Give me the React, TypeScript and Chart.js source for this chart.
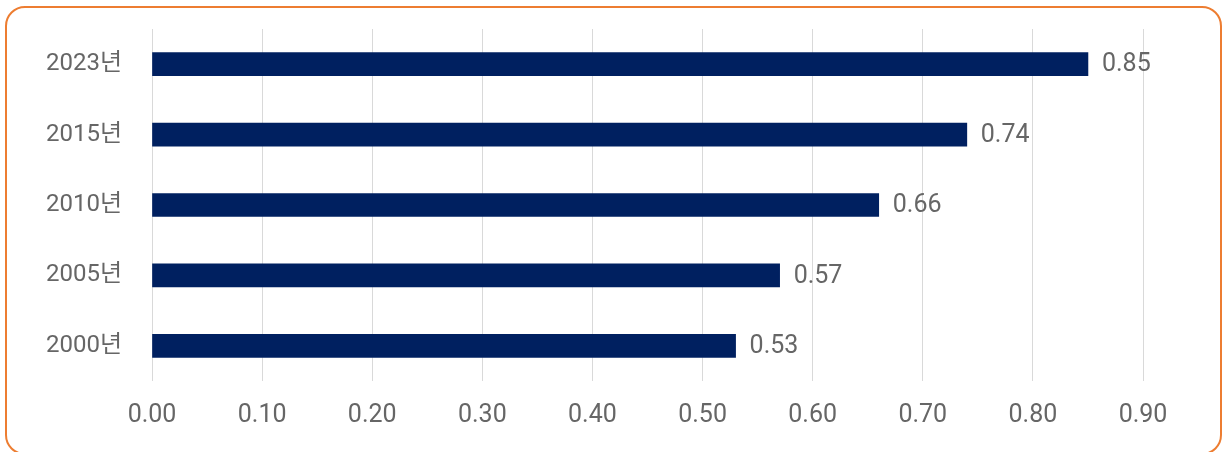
import React, { useEffect, useRef } from "react";
import { Chart, registerables } from "chart.js";

Chart.register(...registerables);

const categories: string[] = ["2023년", "2015년", "2010년", "2005년", "2000년"];
const values: number[] = [0.85, 0.74, 0.66, 0.57, 0.53];
const xMin = 0;
const xMax = 0.9;
const xStep = 0.1;

const FONT = "Roboto, 'Noto Sans CJK KR', sans-serif";
const TEXT_COLOR = "#666666";
const BAR_COLOR = "#002060";

const valueLabels = {
  id: "valueLabels",
  afterDatasetsDraw(chart: any) {
    const ctx = chart.ctx;
    ctx.save();
    ctx.font = `25px ${FONT}`;
    ctx.fillStyle = TEXT_COLOR;
    ctx.textAlign = "left";
    ctx.textBaseline = "middle";
    chart.data.datasets.forEach((ds: any, di: number) => {
      const meta = chart.getDatasetMeta(di);
      meta.data.forEach((bar: any, i: number) => {
        const v = ds.data[i] as number;
        ctx.fillText(v.toFixed(2), bar.x + 14, bar.y + 1);
      });
    });
    ctx.restore();
  },
};

export default function App() {
  const ref = useRef<HTMLCanvasElement | null>(null);

  useEffect(() => {
    if (!ref.current) return;
    const chart = new Chart(ref.current, {
      type: "bar",
      data: {
        labels: categories,
        datasets: [
          {
            data: values,
            backgroundColor: BAR_COLOR,
            borderWidth: 0,
            barThickness: 23,
          },
        ],
      },
      options: {
        indexAxis: "y",
        animation: false,
        responsive: true,
        maintainAspectRatio: false,
        layout: { padding: { left: 0, right: 79, top: 29, bottom: 0 } },
        plugins: {
          legend: { display: false },
          tooltip: { enabled: false },
        },
        scales: {
          x: {
            min: xMin,
            max: xMax,
            ticks: {
              stepSize: xStep,
              callback: (v: any) => Number(v).toFixed(2),
              color: TEXT_COLOR,
              font: { family: FONT, size: 25 },
              padding: 20,
            },
            grid: { color: "#d9d9d9", lineWidth: 1, drawTicks: false },
            border: { display: false },
            afterFit: (scale: any) => {
              scale.height = 71;
              scale.paddingLeft = 0;
              scale.paddingRight = 0;
            },
          },
          y: {
            ticks: {
              color: TEXT_COLOR,
              font: { family: FONT, size: 24 },
              padding: 30,
            },
            grid: { display: false, drawTicks: false },
            border: { display: false },
            afterFit: (scale: any) => {
              scale.width = 152;
              scale.paddingTop = 0;
              scale.paddingBottom = 0;
            },
          },
        },
      },
      plugins: [valueLabels],
    });
    return () => chart.destroy();
  }, []);

  return (
    <div style={{ position: "fixed", left: 0, top: 0, width: 1222, height: 452, overflow: "hidden", background: "#fff" }}>
      <div
        style={{
          position: "absolute",
          left: 5,
          top: 6,
          width: 1217,
          height: 449,
          border: "2px solid #ED7D31",
          borderRadius: 20,
          boxSizing: "border-box",
        }}
      />
      <div style={{ position: "absolute", left: 0, top: 0, width: 1222, height: 452 }}>
        <canvas ref={ref} />
      </div>
    </div>
  );
}
